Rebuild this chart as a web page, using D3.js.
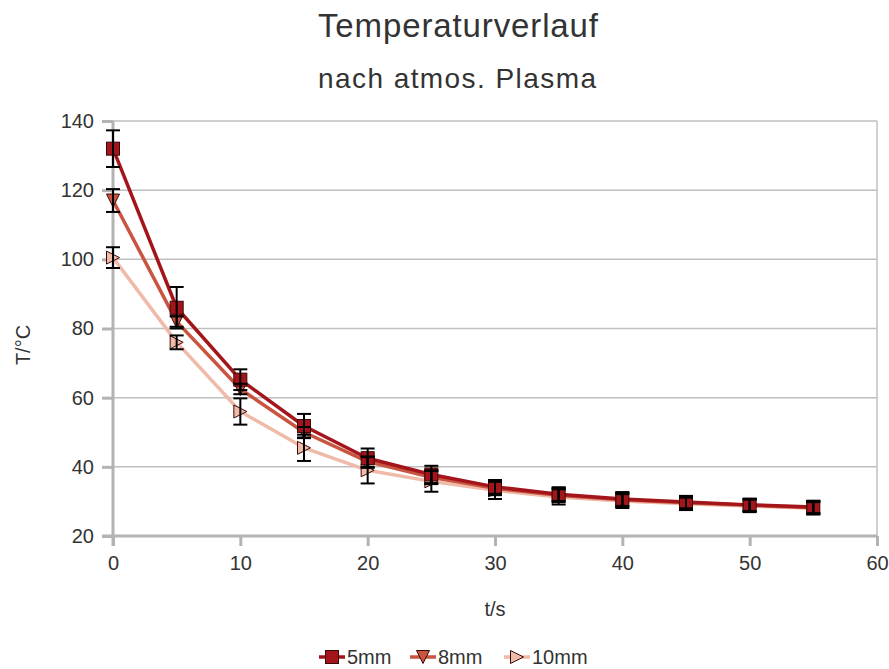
<!DOCTYPE html>
<html>
<head>
<meta charset="utf-8">
<script src="https://cdn.jsdelivr.net/npm/d3@7"></script>
<style>
  body { margin: 0; background: #fff; }
  text { font-family: "Liberation Sans", Arial, sans-serif; fill: #333; }
</style>
</head>
<body>
<svg id="chart" width="889" height="669"></svg>
<script>
// data
var times = [0, 5, 10, 15, 20, 25, 30, 35, 40, 45, 50, 55];
var t5  = [132, 86, 65.2, 51.8, 42.5, 37.8, 34.2, 32.1, 30.7, 29.8, 29.0, 28.4];
var t8  = [117, 82, 62.5, 50.0, 41.5, 37.0, 33.8, 31.8, 30.5, 29.6, 28.9, 28.2];
var t10 = [100.5, 76, 56, 45.5, 39.0, 35.8, 33.2, 31.3, 30.1, 29.3, 28.7, 28.0];
var e5  = [5.3, 6, 3, 3.5, 2.8, 2.5, 2, 2, 2, 1.8, 1.8, 1.8];
var e8  = [3.3, 1.5, 1.5, 1.5, 1.5, 2, 2, 2, 2, 1.8, 1.8, 1.8];
var e10 = [3, 2, 3.8, 3.8, 3.8, 3, 2.5, 2.2, 2, 1.8, 1.8, 1.8];
var xTicks = [0, 10, 20, 30, 40, 50, 60];
var yTicks = [20, 40, 60, 80, 100, 120, 140];

var series = [
  {name: "5mm",  vals: t5,  err: e5,  color: "#a3141b", sym: "square"},
  {name: "8mm",  vals: t8,  err: e8,  color: "#c9543f", sym: "down"},
  {name: "10mm", vals: t10, err: e10, color: "#efbaa8", sym: "right"}
];

var svg = d3.select("#chart");
var x = d3.scaleLinear().domain([0, 60]).range([113, 877]);
var y = d3.scaleLinear().domain([20, 140]).range([536, 121]);

// titles
svg.append("text").attr("x", 318).attr("y", 37)
  .attr("textLength", 280).attr("lengthAdjust", "spacing")
  .style("font-size", "33px").text("Temperaturverlauf");
svg.append("text").attr("x", 318).attr("y", 88)
  .attr("textLength", 278).attr("lengthAdjust", "spacing")
  .style("font-size", "28px").text("nach atmos. Plasma");

// grid
svg.append("g").selectAll("line").data(yTicks.slice(1)).enter().append("line")
  .attr("x1", x(0)).attr("x2", x(60)).attr("y1", d => y(d)).attr("y2", d => y(d))
  .attr("stroke", "#c0c0c0").attr("stroke-width", 1.5);
svg.append("line").attr("x1", x(60)).attr("x2", x(60)).attr("y1", y(140)).attr("y2", y(20))
  .attr("stroke", "#c0c0c0").attr("stroke-width", 1.5);

// axes
var xAxis = svg.append("g").attr("transform", "translate(0," + y(20) + ")")
  .call(d3.axisBottom(x).tickValues(xTicks).tickSize(10).tickPadding(10));
var yAxis = svg.append("g").attr("transform", "translate(" + x(0) + ",0)")
  .call(d3.axisLeft(y).tickValues(yTicks).tickSize(11).tickPadding(8));
[xAxis, yAxis].forEach(function (a) {
  a.select(".domain").attr("stroke", "#b3b3b3").attr("stroke-width", 3);
  a.selectAll(".tick line").attr("stroke", "#b3b3b3").attr("stroke-width", 3);
  a.selectAll(".tick text").style("font-size", "20px").attr("fill", "#333");
});
xAxis.select(".domain").attr("d", "M" + (x(0) - 11) + ",0H" + x(60));
yAxis.select(".domain").attr("d", "M0," + y(140) + "V" + (y(20) + 10));

svg.append("text").attr("x", x(30)).attr("y", 616).attr("text-anchor", "middle")
  .style("font-size", "20px").text("t/s");
svg.append("text").attr("transform", "translate(30,345) rotate(-90)").attr("text-anchor", "middle")
  .style("font-size", "20px").text("T/°C");

function marker(g, sym, cx, cy, color) {
  var s = 6.5;
  if (sym === "square") {
    g.append("rect").attr("x", cx - s).attr("y", cy - s).attr("width", 2 * s).attr("height", 2 * s)
      .attr("fill", color).attr("stroke", "#3a0a0a").attr("stroke-width", 1);
  } else if (sym === "down") {
    g.append("path").attr("d", "M" + (cx - s) + "," + (cy - s) + "L" + (cx + s) + "," + (cy - s) + "L" + cx + "," + (cy + s) + "Z")
      .attr("fill", color).attr("stroke", "#3a0a0a").attr("stroke-width", 1);
  } else {
    g.append("path").attr("d", "M" + (cx - s) + "," + (cy - s) + "L" + (cx + s) + "," + cy + "L" + (cx - s) + "," + (cy + s) + "Z")
      .attr("fill", color).attr("stroke", "#3a0a0a").attr("stroke-width", 1);
  }
}

var line = d3.line().x((d, i) => x(times[i])).y(d => y(d));
var drawOrder = series.slice().reverse();

drawOrder.forEach(function (s) {
  svg.append("path").datum(s.vals).attr("d", line).attr("fill", "none")
    .attr("stroke", s.color).attr("stroke-width", 3.5).attr("stroke-linejoin", "round");
});
drawOrder.forEach(function (s) {
  var g = svg.append("g");
  s.vals.forEach(function (v, i) { marker(g, s.sym, x(times[i]), y(v), s.color); });
});
drawOrder.forEach(function (s) {
  var g = svg.append("g").attr("stroke", "#000").attr("stroke-width", 2);
  s.vals.forEach(function (v, i) {
    var cx = x(times[i]), lo = y(v - s.err[i]), hi = y(v + s.err[i]);
    g.append("line").attr("x1", cx).attr("x2", cx).attr("y1", lo).attr("y2", hi);
    g.append("line").attr("x1", cx - 7).attr("x2", cx + 7).attr("y1", lo).attr("y2", lo);
    g.append("line").attr("x1", cx - 7).attr("x2", cx + 7).attr("y1", hi).attr("y2", hi);
  });
});

// legend
var legX = [332, 423, 517];
series.forEach(function (s, i) {
  var g = svg.append("g");
  var cx = legX[i], cy = 657;
  g.append("line").attr("x1", cx - 13).attr("x2", cx + 13).attr("y1", cy).attr("y2", cy)
    .attr("stroke", s.color).attr("stroke-width", 3.5);
  marker(g, s.sym, cx, cy, s.color);
  g.append("text").attr("x", cx + 15).attr("y", cy + 7).style("font-size", "20px").text(s.name);
});
</script>
</body>
</html>
